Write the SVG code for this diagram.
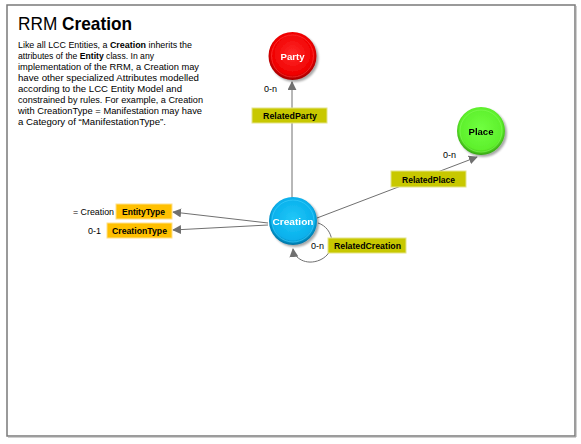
<svg xmlns="http://www.w3.org/2000/svg" width="581" height="444" viewBox="0 0 581 444">
<defs>
<radialGradient id="gRed" cx="50%" cy="45%" r="55%">
<stop offset="0" stop-color="#ff2a2a"/><stop offset="0.8" stop-color="#f00000"/><stop offset="1" stop-color="#9a0000"/>
</radialGradient>
<radialGradient id="gGreen" cx="50%" cy="45%" r="55%">
<stop offset="0" stop-color="#70ff40"/><stop offset="0.8" stop-color="#5ef02c"/><stop offset="1" stop-color="#34a010"/>
</radialGradient>
<radialGradient id="gBlue" cx="50%" cy="45%" r="55%">
<stop offset="0" stop-color="#22c8f8"/><stop offset="0.8" stop-color="#08b0ec"/><stop offset="1" stop-color="#006e9e"/>
</radialGradient>
<marker id="arr" viewBox="0 0 10 10" refX="9" refY="5" markerWidth="9" markerHeight="9" markerUnits="userSpaceOnUse" orient="auto">
<path d="M0,0 L10,5 L0,10 z" fill="#707070"/>
</marker>
<filter id="sh" x="-20%" y="-20%" width="150%" height="150%">
<feGaussianBlur in="SourceAlpha" stdDeviation="1.2"/><feOffset dx="1.5" dy="1.5"/>
<feComponentTransfer><feFuncA type="linear" slope="0.35"/></feComponentTransfer>
<feMerge><feMergeNode/><feMergeNode in="SourceGraphic"/></feMerge>
</filter>
</defs>
<style>
.t{font-family:"Liberation Sans",Arial,sans-serif;fill:#000}
.b{font-weight:bold}
.lab{font-family:"Liberation Sans",Arial,sans-serif;font-weight:bold;font-size:9px;fill:#000}
.ybox{fill:#c8c800;stroke:#e4e48a;stroke-width:1}
.obox{fill:#ffc000;stroke:#ffe08a;stroke-width:1}
.conn{stroke:#707070;stroke-width:1;fill:none}
.card{font-family:"Liberation Sans",Arial,sans-serif;font-size:9px;fill:#000}
</style>
<rect x="0" y="0" width="581" height="444" fill="#fff"/>
<rect x="7" y="5" width="568" height="431" fill="#fff" stroke="#7a7a7a" stroke-width="1.5"/>
<line x1="576" y1="6" x2="576" y2="437" stroke="#a0a0a0" stroke-width="1"/>
<line x1="8" y1="437" x2="576" y2="437" stroke="#a0a0a0" stroke-width="1"/>
<g id="title">
<text class="t" x="18" y="30" font-size="19" textLength="114" lengthAdjust="spacingAndGlyphs">RRM <tspan class="b">Creation</tspan></text>
<g font-size="9">
<text class="t" x="18" y="47.5" textLength="174" lengthAdjust="spacingAndGlyphs">Like all LCC Entities, a <tspan class="b">Creation</tspan> inherits the</text>
<text class="t" x="18" y="58.5" textLength="136" lengthAdjust="spacingAndGlyphs">attributes of the <tspan class="b">Entity</tspan> class. In any</text>
<text class="t" x="18" y="69.5" textLength="181" lengthAdjust="spacingAndGlyphs">implementation of the RRM, a Creation may</text>
<text class="t" x="18" y="80.5" textLength="181" lengthAdjust="spacingAndGlyphs">have other specialized Attributes modelled</text>
<text class="t" x="18" y="91.5" textLength="164" lengthAdjust="spacingAndGlyphs">according to the LCC Entity Model and</text>
<text class="t" x="18" y="102.5" textLength="185" lengthAdjust="spacingAndGlyphs">constrained by rules. For example, a Creation</text>
<text class="t" x="18" y="113.5" textLength="184" lengthAdjust="spacingAndGlyphs">with CreationType = Manifestation may have</text>
<text class="t" x="18" y="124.5" textLength="148" lengthAdjust="spacingAndGlyphs">a Category of “ManifestationType”.</text>
</g>
</g>
<g id="connectors">
<line class="conn" x1="292" y1="198" x2="292" y2="82" marker-end="url(#arr)"/>
<line class="conn" x1="317" y1="218" x2="477" y2="157" marker-end="url(#arr)"/>
<line class="conn" x1="268" y1="223" x2="173" y2="212" marker-end="url(#arr)"/>
<line class="conn" x1="268" y1="225" x2="173" y2="230" marker-end="url(#arr)"/>
<path class="conn" d="M318,223 C334,228 338,252 320,260 C306,266 294,258 293,249" marker-end="url(#arr)"/>
</g>
<g id="RelatedParty">
<rect class="ybox" x="252" y="108" width="75" height="15"/>
<text class="lab" x="263" y="119" textLength="54" lengthAdjust="spacingAndGlyphs">RelatedParty</text>
<text class="card" x="264" y="92">0-n</text>
</g>
<g id="RelatedPlace">
<rect class="ybox" x="391" y="171" width="75" height="16"/>
<text class="lab" x="402" y="182.5" textLength="53" lengthAdjust="spacingAndGlyphs">RelatedPlace</text>
<text class="card" x="443" y="158">0-n</text>
</g>
<g id="RelatedCreation">
<rect class="ybox" x="328" y="238" width="78" height="15"/>
<text class="lab" x="334" y="249" textLength="67" lengthAdjust="spacingAndGlyphs">RelatedCreation</text>
<text class="card" x="311" y="249">0-n</text>
</g>
<g id="EntityType">
<rect class="obox" x="116" y="204" width="56" height="15"/>
<text class="lab" x="122" y="215" textLength="43" lengthAdjust="spacingAndGlyphs">EntityType</text>
<text class="card" x="73" y="215" textLength="41" lengthAdjust="spacingAndGlyphs">= Creation</text>
</g>
<g id="CreationType">
<rect class="obox" x="107" y="223" width="65" height="15"/>
<text class="lab" x="112" y="234" textLength="55" lengthAdjust="spacingAndGlyphs">CreationType</text>
<text class="card" x="88" y="234">0-1</text>
</g>
<g id="Party" filter="url(#sh)">
<circle cx="292.5" cy="56" r="24" fill="url(#gRed)"/>
<circle cx="292.5" cy="56" r="21" fill="none" stroke="#ff4a4a" stroke-opacity="0.5" stroke-width="1"/>
<text class="lab" x="292.5" y="60" font-size="10.5" fill="#fff" style="fill:#fff" text-anchor="middle" textLength="24" lengthAdjust="spacingAndGlyphs">Party</text>
</g>
<g id="Place" filter="url(#sh)">
<circle cx="481" cy="131" r="24" fill="url(#gGreen)"/>
<circle cx="481" cy="131" r="21" fill="none" stroke="#8aff60" stroke-opacity="0.5" stroke-width="1"/>
<text class="lab" x="481" y="135" font-size="10.5" text-anchor="middle" textLength="25" lengthAdjust="spacingAndGlyphs">Place</text>
</g>
<g id="Creation" filter="url(#sh)">
<circle cx="293" cy="221" r="24" fill="url(#gBlue)"/>
<circle cx="293" cy="221" r="21" fill="none" stroke="#50d8ff" stroke-opacity="0.5" stroke-width="1"/>
<text class="lab" x="293" y="225" font-size="10.5" style="fill:#fff" text-anchor="middle" textLength="41" lengthAdjust="spacingAndGlyphs">Creation</text>
</g>
</svg>
